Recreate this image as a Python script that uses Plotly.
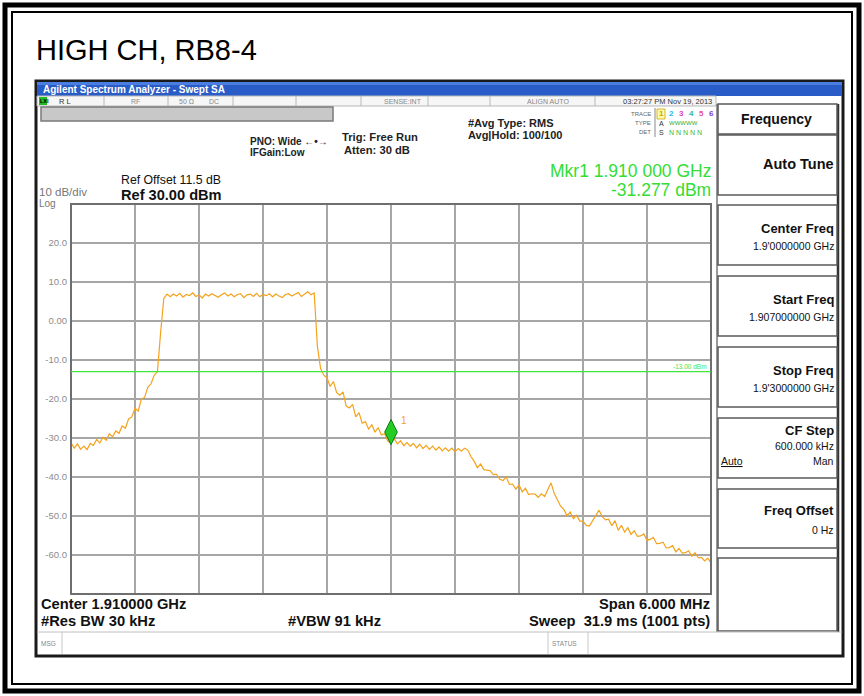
import numpy as np
import plotly.graph_objects as go

W, H = 864, 696
FONT = "Liberation Sans, Arial, sans-serif"

# ---------------- data ----------------
start_mhz = 1907.0
stop_mhz = 1913.0
levels_dbm = [
    -31.2, -32.6, -31.5, -32.9, -32.1, -33.0, -31.4, -31.9, -30.4, -31.3, -29.8,
    -30.6, -28.9, -29.7, -28.2, -28.8, -26.9, -27.5, -25.1, -24.6, -22.4,
    -23.1, -20.0, -19.6, -17.0, -16.1, -13.9, -13.0,
    -3.0, 5.8, 6.9,
    6.2, 6.9, 6.4, 7.1, 6.1, 6.8, 6.5, 7.2, 6.3, 6.7, 5.9, 6.9, 6.4, 7.0, 6.6, 6.1,
    6.7, 7.2, 6.4, 6.9, 6.2, 6.8, 7.0, 6.0, 6.7, 6.9, 6.3, 7.1, 6.2, 6.8, 6.5, 7.0,
    6.2, 6.9, 6.4, 6.0, 6.8, 7.0, 6.4, 6.9, 7.3, 6.3, 7.0, 7.5, 6.7, 7.2,
    -6.5, -12.2, -13.9, -14.6, -16.8, -15.5, -18.3, -19.0, -18.2, -21.8, -22.3,
    -21.4, -24.6, -23.5, -26.2, -25.8, -27.7, -26.6, -28.5, -27.3, -29.2, -28.9,
    -30.8, -31.3, -30.2, -31.5, -30.7, -32.0, -31.2, -32.1, -31.4, -32.5, -31.6,
    -32.7, -31.9, -32.9, -32.1, -33.1, -32.3, -33.3, -32.5, -33.4, -32.6, -33.5,
    -32.7, -33.4, -32.6, -33.1, -34.8, -36.0, -37.6, -36.7, -38.1, -38.2, -38.4,
    -39.4, -39.3, -40.6, -40.9, -40.0, -41.9, -41.8, -43.1, -42.0, -43.8, -42.9,
    -44.5, -44.3, -44.4, -45.2, -44.3, -45.0, -43.4, -41.5, -44.2, -46.0, -47.5,
    -48.3, -49.9, -49.0, -50.7, -49.8, -51.3, -51.3, -52.4, -52.6, -51.2, -49.6,
    -48.5, -50.1, -51.0, -50.8, -52.5, -51.2, -53.7, -52.4, -54.1, -53.0, -54.7,
    -53.8, -55.2, -55.1, -54.6, -56.2, -56.0, -55.5, -57.1, -57.0, -56.7, -58.2,
    -58.1, -57.6, -59.2, -58.3, -59.5, -59.4, -58.9, -60.3, -59.4, -60.7, -60.6,
    -61.5, -60.8, -62.0,
]
freq_mhz = np.linspace(start_mhz, stop_mhz, len(levels_dbm))

ref_level = 30.0
db_per_div = 10.0
y_tick_vals = [20, 10, 0, -10, -20, -30, -40, -50, -60]
y_tick_text = ["20.0", "10.0", "0.00", "-10.0", "-20.0", "-30.0", "-40.0", "-50.0", "-60.0"]
limit_dbm = -13.0
mkr_freq_mhz = 1910.0
mkr_level_dbm = -31.277

# ---------------- helpers ----------------
def X(px):
    return px / W

def Y(py):
    return 1 - py / H

shapes = []
annotations = []

def rect(x0, y0, x1, y1, fill="rgba(0,0,0,0)", line="rgba(0,0,0,0)", lw=0, layer="below"):
    shapes.append(dict(type="rect", xref="paper", yref="paper", x0=X(x0), y0=Y(y1), x1=X(x1), y1=Y(y0),
                       fillcolor=fill, line=dict(color=line, width=lw), layer=layer))

def hline(x0, x1, y, color, lw=1, layer="below"):
    shapes.append(dict(type="line", xref="paper", yref="paper", x0=X(x0), x1=X(x1), y0=Y(y), y1=Y(y),
                       line=dict(color=color, width=lw), layer=layer))

def vline(x, y0, y1, color, lw=1, layer="below"):
    shapes.append(dict(type="line", xref="paper", yref="paper", x0=X(x), x1=X(x), y0=Y(y0), y1=Y(y1),
                       line=dict(color=color, width=lw), layer=layer))

def txt(s, x, y, size, color="#000000", bold=False, anchor="left", family=FONT):
    annotations.append(dict(text=f"<b>{s}</b>" if bold else s, x=X(x), y=Y(y), xref="paper", yref="paper",
                            xanchor=anchor, yanchor="middle", showarrow=False, borderpad=0,
                            font=dict(size=size, color=color, family=family)))

# ---------------- page frame ----------------
rect(5, 5, 859, 691, line="#000000", lw=5)
rect(12, 12, 852, 684, line="#000000", lw=2)
txt("HIGH CH, RB8-4", 35, 50, 29, "#000000")

# screenshot frame
rect(36, 81, 843, 656, fill="#ffffff", line="#1a1a1a", lw=3)
# title bar
rect(37, 82, 842, 96, fill="#2a5cc8")
rect(37, 82, 842, 85, fill="#4a7ee0")
txt("Agilent Spectrum Analyzer - Swept SA", 42, 89.5, 10, "#ffffff", bold=True)
# status row
rect(37, 96, 716, 106, fill="#f6f6f6", line="#b8b8b8", lw=1)
rect(39, 97, 47, 105, fill="#22bb22")
txt("LXI", 39.3, 101, 5.5, "#000000", bold=True)
for sx in [104, 168, 233, 296, 361, 428, 490, 595]:
    vline(sx, 96, 106, "#b8b8b8", 1)
txt("R L", 58, 101, 7.5, "#333333")
txt("RF", 130, 101, 7, "#888888")
txt("50 \u03a9", 178, 101, 7, "#888888")
txt("DC", 208, 101, 7, "#888888")
txt("SENSE:INT", 423, 101, 7, "#888888", anchor="right")
txt("ALIGN AUTO", 570, 101, 7, "#888888", anchor="right")
txt("03:27:27 PM Nov 19, 2013", 713, 101, 7.5, "#333333", anchor="right")
# gray bar
rect(41, 107, 333, 121, fill="#c8c8c8", line="#7a7a7a", lw=1.5)

# header texts
txt("PNO: Wide \u2190\u2022\u2192", 249, 141, 10, "#222222", bold=True)
txt("IFGain:Low", 249, 152, 10, "#222222", bold=True)
txt("Trig: Free Run", 341, 137, 11.2, "#222222", bold=True)
txt("Atten: 30 dB", 343, 149.5, 11.2, "#222222", bold=True)
txt("#Avg Type: RMS", 467, 123, 11, "#222222", bold=True)
txt("Avg|Hold: 100/100", 467, 135, 11, "#222222", bold=True)

txt("TRACE", 652, 114, 6, "#666666", anchor="right")
txt("TYPE", 652, 123, 6, "#666666", anchor="right")
txt("DET", 652, 132, 6, "#666666", anchor="right")
vline(655, 108, 137, "#888888", 1)
trace_digit_colors = ["#c8a800", "#22b8e8", "#e040c0", "#30b8a0", "#e050a0", "#8040e0"]
rect(657, 109, 665, 119, fill="#fff8b0", line="#c8a800", lw=0.8)
for k, c in enumerate(trace_digit_colors):
    txt(str(k + 1), 661 + 10 * k, 114, 8, c, anchor="center", bold=True)
txt("A", 658, 123, 7, "#333333")
txt("WWWWW", 668, 123, 6, "#33aa33")
txt("S", 658, 132, 7, "#333333")
txt("N N N N N", 668, 132, 7, "#33bb33")

txt("Mkr1 1.910 000 GHz", 712, 170.5, 17.5, "#33dd33", anchor="right")
txt("-31.277 dBm", 712, 190, 17.5, "#33dd33", anchor="right")

txt("Ref Offset 11.5 dB", 120, 180, 12.3, "#111111")
txt("Ref 30.00 dBm", 120, 194.5, 14.6, "#111111", bold=True)
txt("10 dB/div", 38, 192.5, 11.5, "#777777")
txt("Log", 38, 203, 10, "#777777")

# softkey panel
vline(717, 104, 632, "#777777", 1.5)
vline(838, 104, 632, "#333333", 2.5)
softkeys = [(104, 134), (135, 195), (205, 265), (276, 336), (347, 407), (418, 478), (489, 548), (558, 631)]
for (a, b) in softkeys:
    rect(718, a, 837, b, fill="#ffffff", line="#5a5a5a", lw=1.5)
txt("Frequency", 776, 119, 14, "#111111", bold=True, anchor="center")
txt("Auto Tune", 835, 164, 14.5, "#111111", bold=True, anchor="right")
txt("Center Freq", 835, 228, 13, "#111111", bold=True, anchor="right")
txt("1.9'0000000 GHz", 835, 246, 10.5, "#111111", anchor="right")
txt("Start Freq", 835, 299, 13, "#111111", bold=True, anchor="right")
txt("1.907000000 GHz", 835, 317, 10.5, "#111111", anchor="right")
txt("Stop Freq", 835, 370, 13, "#111111", bold=True, anchor="right")
txt("1.9'3000000 GHz", 835, 388, 10.5, "#111111", anchor="right")
txt("CF Step", 835, 431, 13, "#111111", bold=True, anchor="right")
txt("600.000 kHz", 835, 446, 10.5, "#111111", anchor="right")
txt("<u>Auto</u>", 720, 461, 10.5, "#111111")
txt("Man", 835, 461, 10.5, "#111111", anchor="right")
txt("Freq Offset", 835, 510, 13, "#111111", bold=True, anchor="right")
txt("0 Hz", 835, 530, 10.5, "#111111", anchor="right")

# bottom info
txt("Center 1.910000 GHz", 40, 604, 14.7, "#111111", bold=True)
txt("#Res BW 30 kHz", 40, 621, 14.7, "#111111", bold=True)
txt("#VBW 91 kHz", 287, 621, 14.7, "#111111", bold=True)
txt("Span 6.000 MHz", 711, 604, 14.7, "#111111", bold=True, anchor="right")
txt("Sweep  31.9 ms (1001 pts)", 711, 621, 14.7, "#111111", bold=True, anchor="right")

# message row
hline(37, 842, 632, "#c0c0c0", 1)
vline(62, 632, 654, "#c8c8c8", 1)
vline(548, 632, 654, "#c8c8c8", 1)
vline(588, 632, 654, "#c8c8c8", 1)
txt("MSG", 40, 643, 6.5, "#888888")
txt("STATUS", 551, 643, 6.5, "#888888")

# plot border
px0, px1, py0, py1 = 71, 711, 204, 594
rect(px0, py0, px1, py1, line="#6e6e6e", lw=2, layer="above")

# limit line
shapes.append(dict(type="line", xref="x", yref="y", x0=start_mhz, x1=stop_mhz, y0=limit_dbm, y1=limit_dbm,
                   line=dict(color="#3ee63e", width=1.2), layer="above"))
annotations.append(dict(text="-13.00 dBm", x=stop_mhz - 0.02, y=limit_dbm, xref="x", yref="y",
                        xanchor="right", yanchor="bottom", showarrow=False,
                        font=dict(size=6.5, color="#3ee63e", family=FONT)))

# ---------------- figure ----------------
fig = go.Figure()
fig.add_trace(go.Scatter(x=freq_mhz, y=levels_dbm, mode="lines",
                         line=dict(color="#f5a21b", width=1.2), hoverinfo="skip"))
fig.add_trace(go.Scatter(x=[mkr_freq_mhz], y=[mkr_level_dbm + 2.8], mode="markers",
                         marker=dict(symbol="diamond-tall", size=18, color="#22cc22",
                                     line=dict(color="#0f7a0f", width=1)), hoverinfo="skip"))
annotations.append(dict(text="1", x=mkr_freq_mhz + 0.12, y=mkr_level_dbm + 5.8, xref="x", yref="y",
                        showarrow=False, font=dict(size=10, color="#f5a21b", family=FONT)))

fig.update_layout(
    width=W, height=H,
    margin=dict(l=0, r=0, t=0, b=0),
    paper_bgcolor="#ffffff", plot_bgcolor="#ffffff",
    showlegend=False,
    shapes=shapes, annotations=annotations,
    xaxis=dict(domain=[X(px0), X(px1)], range=[start_mhz, stop_mhz], dtick=0.6, tick0=start_mhz,
               showgrid=True, gridcolor="#a6a6a6", gridwidth=1.5, showticklabels=False,
               zeroline=False, showline=False, ticks="", fixedrange=True),
    yaxis=dict(domain=[Y(py1), Y(py0)], range=[ref_level - 10 * db_per_div, ref_level], dtick=db_per_div,
               tickvals=y_tick_vals, ticktext=y_tick_text,
               showgrid=True, gridcolor="#a6a6a6", gridwidth=1.5, zeroline=False, showline=False,
               ticks="", ticklabelstandoff=3,
               tickfont=dict(size=9.5, color="#8c8c8c", family=FONT), fixedrange=True),
)

fig.write_html("out.html", config={"displayModeBar": False},
               post_script="document.body.style.margin='0px';document.body.style.overflow='hidden';")
